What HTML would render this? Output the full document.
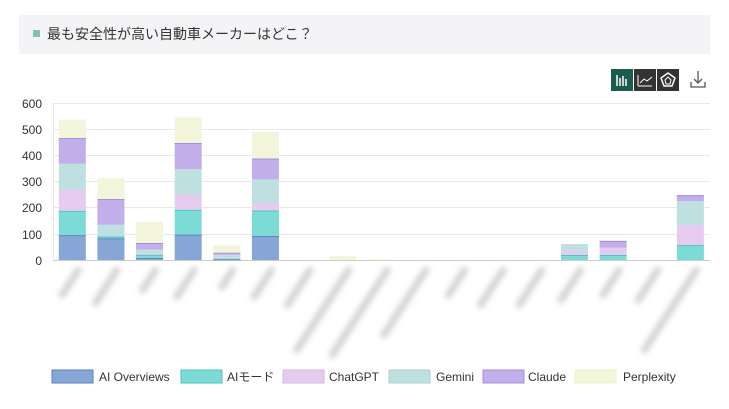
<!DOCTYPE html>
<html><head><meta charset="utf-8"><style>
body{margin:0;background:#fff;width:729px;height:404px;overflow:hidden;font-family:"Liberation Sans","Noto Sans CJK JP",sans-serif}
</style></head><body>
<svg width="729" height="404" xmlns="http://www.w3.org/2000/svg" font-family="Liberation Sans, Noto Sans CJK JP, sans-serif">
<defs><filter id="b" x="-50%" y="-50%" width="200%" height="200%"><feGaussianBlur stdDeviation="2.8"/></filter></defs>
<rect x="19" y="15" width="691" height="39" fill="#f4f4f6"/>
<rect x="33" y="30" width="7" height="7" fill="#7ec4b0"/>
<text x="47" y="39" font-size="14" fill="#333">最も安全性が高い自動車メーカーはどこ？</text>
<rect x="611" y="69" width="22" height="22" fill="#1a5c4f"/>
<g stroke="#fff" stroke-width="1.5"><line x1="617" y1="75" x2="617" y2="86"/><line x1="620" y1="78" x2="620" y2="86"/><line x1="623" y1="76" x2="623" y2="86"/><line x1="626" y1="79" x2="626" y2="86"/></g>
<rect x="634" y="69" width="22" height="22" fill="#333"/>
<line x1="638" y1="75" x2="638" y2="86" stroke="#fff"/><line x1="638" y1="86" x2="652" y2="86" stroke="#fff"/>
<polyline points="640,83 644,79 647,81 652,77" fill="none" stroke="#fff"/>
<rect x="657" y="69" width="22" height="22" fill="#333"/>
<polygon points="668,73 675,78 672,86 664,86 661,78" fill="none" stroke="#fff" stroke-width="1.5"/>
<polygon points="668,77 671,80 670,84 666,84 665,80" fill="none" stroke="#fff"/>
<g stroke="#555" fill="none" stroke-width="1.3"><line x1="698" y1="71" x2="698" y2="83"/><polyline points="694,79 698,83 702,79"/><polyline points="691,82 691,87 705,87 705,82"/></g>
<g stroke="#e8e8e8" stroke-width="1">
<line x1="53" y1="103.5" x2="710" y2="103.5"/><line x1="53" y1="129.5" x2="710" y2="129.5"/><line x1="53" y1="155.5" x2="710" y2="155.5"/><line x1="53" y1="181.5" x2="710" y2="181.5"/><line x1="53" y1="207.5" x2="710" y2="207.5"/><line x1="53" y1="234.5" x2="710" y2="234.5"/>
</g>
<line x1="53" y1="260.5" x2="710" y2="260.5" stroke="#ccc"/>
<line x1="53.5" y1="103" x2="53.5" y2="260" stroke="#e8e8e8"/>
<g font-size="12" fill="#333" text-anchor="end">
<text x="42" y="108">600</text><text x="42" y="134">500</text><text x="42" y="160">400</text><text x="42" y="186">300</text><text x="42" y="212">200</text><text x="42" y="239">100</text><text x="42" y="265">0</text>
</g>
<g id="bars"></g>
<g filter="url(#b)" stroke="#d2d2d2" stroke-width="7" stroke-linecap="round" id="lbl"></g>
<g font-size="12" fill="#333">
<rect x="52" y="370" width="41" height="13" fill="#86a6d6" stroke="#5d7fc0"/><text x="99" y="381">AI Overviews</text>
<rect x="181" y="370" width="41" height="13" fill="#7ddbd5" stroke="#4cc4bc"/><text x="227" y="381">AIモード</text>
<rect x="283" y="370" width="41" height="13" fill="#e5cbef" stroke="#d8b8e6"/><text x="329" y="381">ChatGPT</text>
<rect x="389" y="370" width="41" height="13" fill="#bfe0e0" stroke="#a8d0d0"/><text x="436" y="381">Gemini</text>
<rect x="483" y="370" width="41" height="13" fill="#c2aeea" stroke="#a58fdc"/><text x="528" y="381">Claude</text>
<rect x="575" y="370" width="41" height="13" fill="#f2f5d9" stroke="#eef0d0"/><text x="623" y="381">Perplexity</text>
</g>
</svg>
<script>
var d=[[95,93,82,98,98,70],[83,7,0,45,98,80],[8,12,5,15,25,80],[97,95,60,95,100,97],[3,2,5,10,8,27],[92,97,27,92,80,102],[0,0,0,0,0,0],[0,0,0,0,0,15],[0,0,0,0,0,3],[0,0,0,0,0,0],[0,0,0,0,0,0],[0,0,0,0,0,0],[0,0,0,0,0,0],[0,19,16,26,0,0],[0,19,28,0,26,0],[0,0,0,0,0,0],[0,57,77,91,23,0]];
var fc=["#86a6d6","#7ddbd5","#e5cbef","#bfe0e0","#c2aeea","#f2f5d9"],sc=["#5d7fc0","#4cc4bc","#e5cbef","#bfe0e0","#a58fdc","#f2f5d9"];
var s="",k=0.2617;
d.forEach(function(r,i){var cx=72.3+38.63*i,y=260;r.forEach(function(v,j){if(!v)return;var h=v*k;y-=h;s+='<rect x="'+(cx-13.5)+'" y="'+y+'" width="27" height="'+h+'" fill="'+fc[j]+'"/><line x1="'+(cx-13.5)+'" x2="'+(cx+13.5)+'" y1="'+(y+0.5)+'" y2="'+(y+0.5)+'" stroke="'+sc[j]+'"/>';});});
document.getElementById("bars").innerHTML=s;
var L=[295,303,290,297,287,297,305,350,355,335,295,305,305,300,295,300,350],t="";
L.forEach(function(e,i){var cx=72.3+38.63*i;var x1=cx+6,y1=270,dy=e-y1,x2=x1-dy*0.65;t+='<line x1="'+x1+'" y1="'+y1+'" x2="'+x2+'" y2="'+e+'"/>';});
document.getElementById("lbl").innerHTML=t;
</script>
</body></html>
